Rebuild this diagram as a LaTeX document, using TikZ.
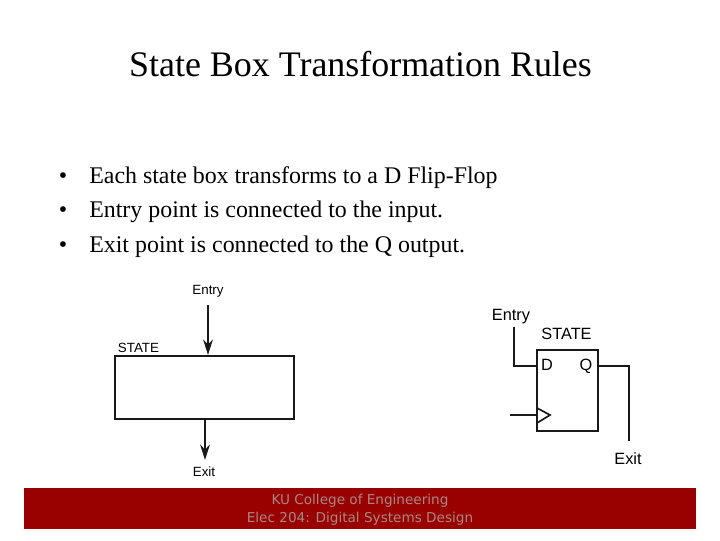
\documentclass[tikz,border=0pt]{standalone}
\usepackage{fontspec}
\setmainfont{Liberation Serif}
\newfontfamily\diagfont{Liberation Sans}
\newfontfamily\footfont{DejaVu Sans}
\usetikzlibrary{arrows.meta}
\definecolor{kured}{RGB}{153,0,0}
\definecolor{kugray}{RGB}{170,135,135}
\tikzset{
	wire/.style={line width=1.2pt, black!90},
	arrow/.style={wire, -{Stealth[length=11pt, width=7pt]}},
	box/.style={draw, rectangle, line width=1.6pt, black!90, inner sep=0pt},
	bulletline/.style={anchor=base west, inner sep=0pt, font=\fontsize{17}{18}\selectfont},
	bulletdot/.style={anchor=base, inner sep=0pt, font=\fontsize{17}{18}\selectfont},
	diaglabel/.style={inner sep=0pt, font=\diagfont\fontsize{9.5}{10}\selectfont},
	fflabel/.style={inner sep=0pt, font=\diagfont\fontsize{11.6}{12}\selectfont},
	footline/.style={inner sep=0pt, text=kugray, font=\footfont\fontsize{9.67}{10}\selectfont}
}
\begin{document}
\begin{tikzpicture}[x=0.025cm, y=-0.025cm]
	\useasboundingbox (0, 0) rectangle (720, 540);
	\node[inner sep=0pt, font=\fontsize{25.55}{30}\selectfont] (title)at(360.5, 64) {State Box Transformation Rules};
	\node[bulletdot] (dotA)at(63, 183) {\textbullet};
	\node[bulletdot] (dotB)at(63, 217) {\textbullet};
	\node[bulletdot] (dotC)at(63, 252) {\textbullet};
	\node[bulletline] (lineA)at(89, 183) {Each state box transforms to a D Flip-Flop};
	\node[bulletline] (lineB)at(89, 217) {Entry point is connected to the input.};
	\node[bulletline] (lineC)at(89, 252) {Exit point is connected to the Q output.};
	\node[diaglabel] (entryL)at(208, 291) {Entry};
	\node[diaglabel] (stateL)at(138.5, 348) {STATE};
	\node[diaglabel] (exitL)at(204, 472) {Exit};
	\node[box, minimum width=4.475cm, minimum height=1.575cm] (stateBox)at(204.5, 387.5) {};
	\coordinate (entryA)at(208, 305);
	\coordinate (exitB)at(205, 460);
	\draw[arrow] (entryA) -- (entryA |- stateBox.north);
	\draw[arrow] (exitB |- stateBox.south) -- (exitB);
	\node[fflabel] (entryR)at(511, 317) {Entry};
	\node[fflabel] (stateR)at(566.5, 334) {STATE};
	\node[fflabel] (dL)at(547, 365) {D};
	\node[fflabel] (qL)at(586, 366) {Q};
	\node[fflabel] (exitR)at(628, 459) {Exit};
	\node[box, minimum width=1.525cm, minimum height=2.025cm] (ffBox)at(567.5, 390.5) {};
	\coordinate (dPin)at(537, 366);
	\coordinate (qPin)at(598, 366);
	\coordinate (entryWire)at(514, 327);
	\coordinate (exitWire)at(629, 441);
	\coordinate (clkWire)at(510, 415);
	\coordinate (clkTop)at(537, 408);
	\coordinate (clkTip)at(550, 415);
	\coordinate (clkBot)at(537, 423);
	\draw[wire] (entryWire) |- (dPin);
	\draw[wire] (qPin) -| (exitWire);
	\draw[wire] (clkWire) -- (clkWire -| ffBox.west);
	\draw[wire] (clkTop) -- (clkTip) -- (clkBot);
	\coordinate (barNW)at(24, 488);
	\coordinate (barSE)at(696, 529);
	\fill[kured] (barNW) rectangle (barSE);
	\node[footline] (footA)at(360, 501) {KU College of Engineering};
	\node[footline] (footB)at(360, 519) {Elec 204: Digital Systems Design};
\end{tikzpicture}
\end{document}
